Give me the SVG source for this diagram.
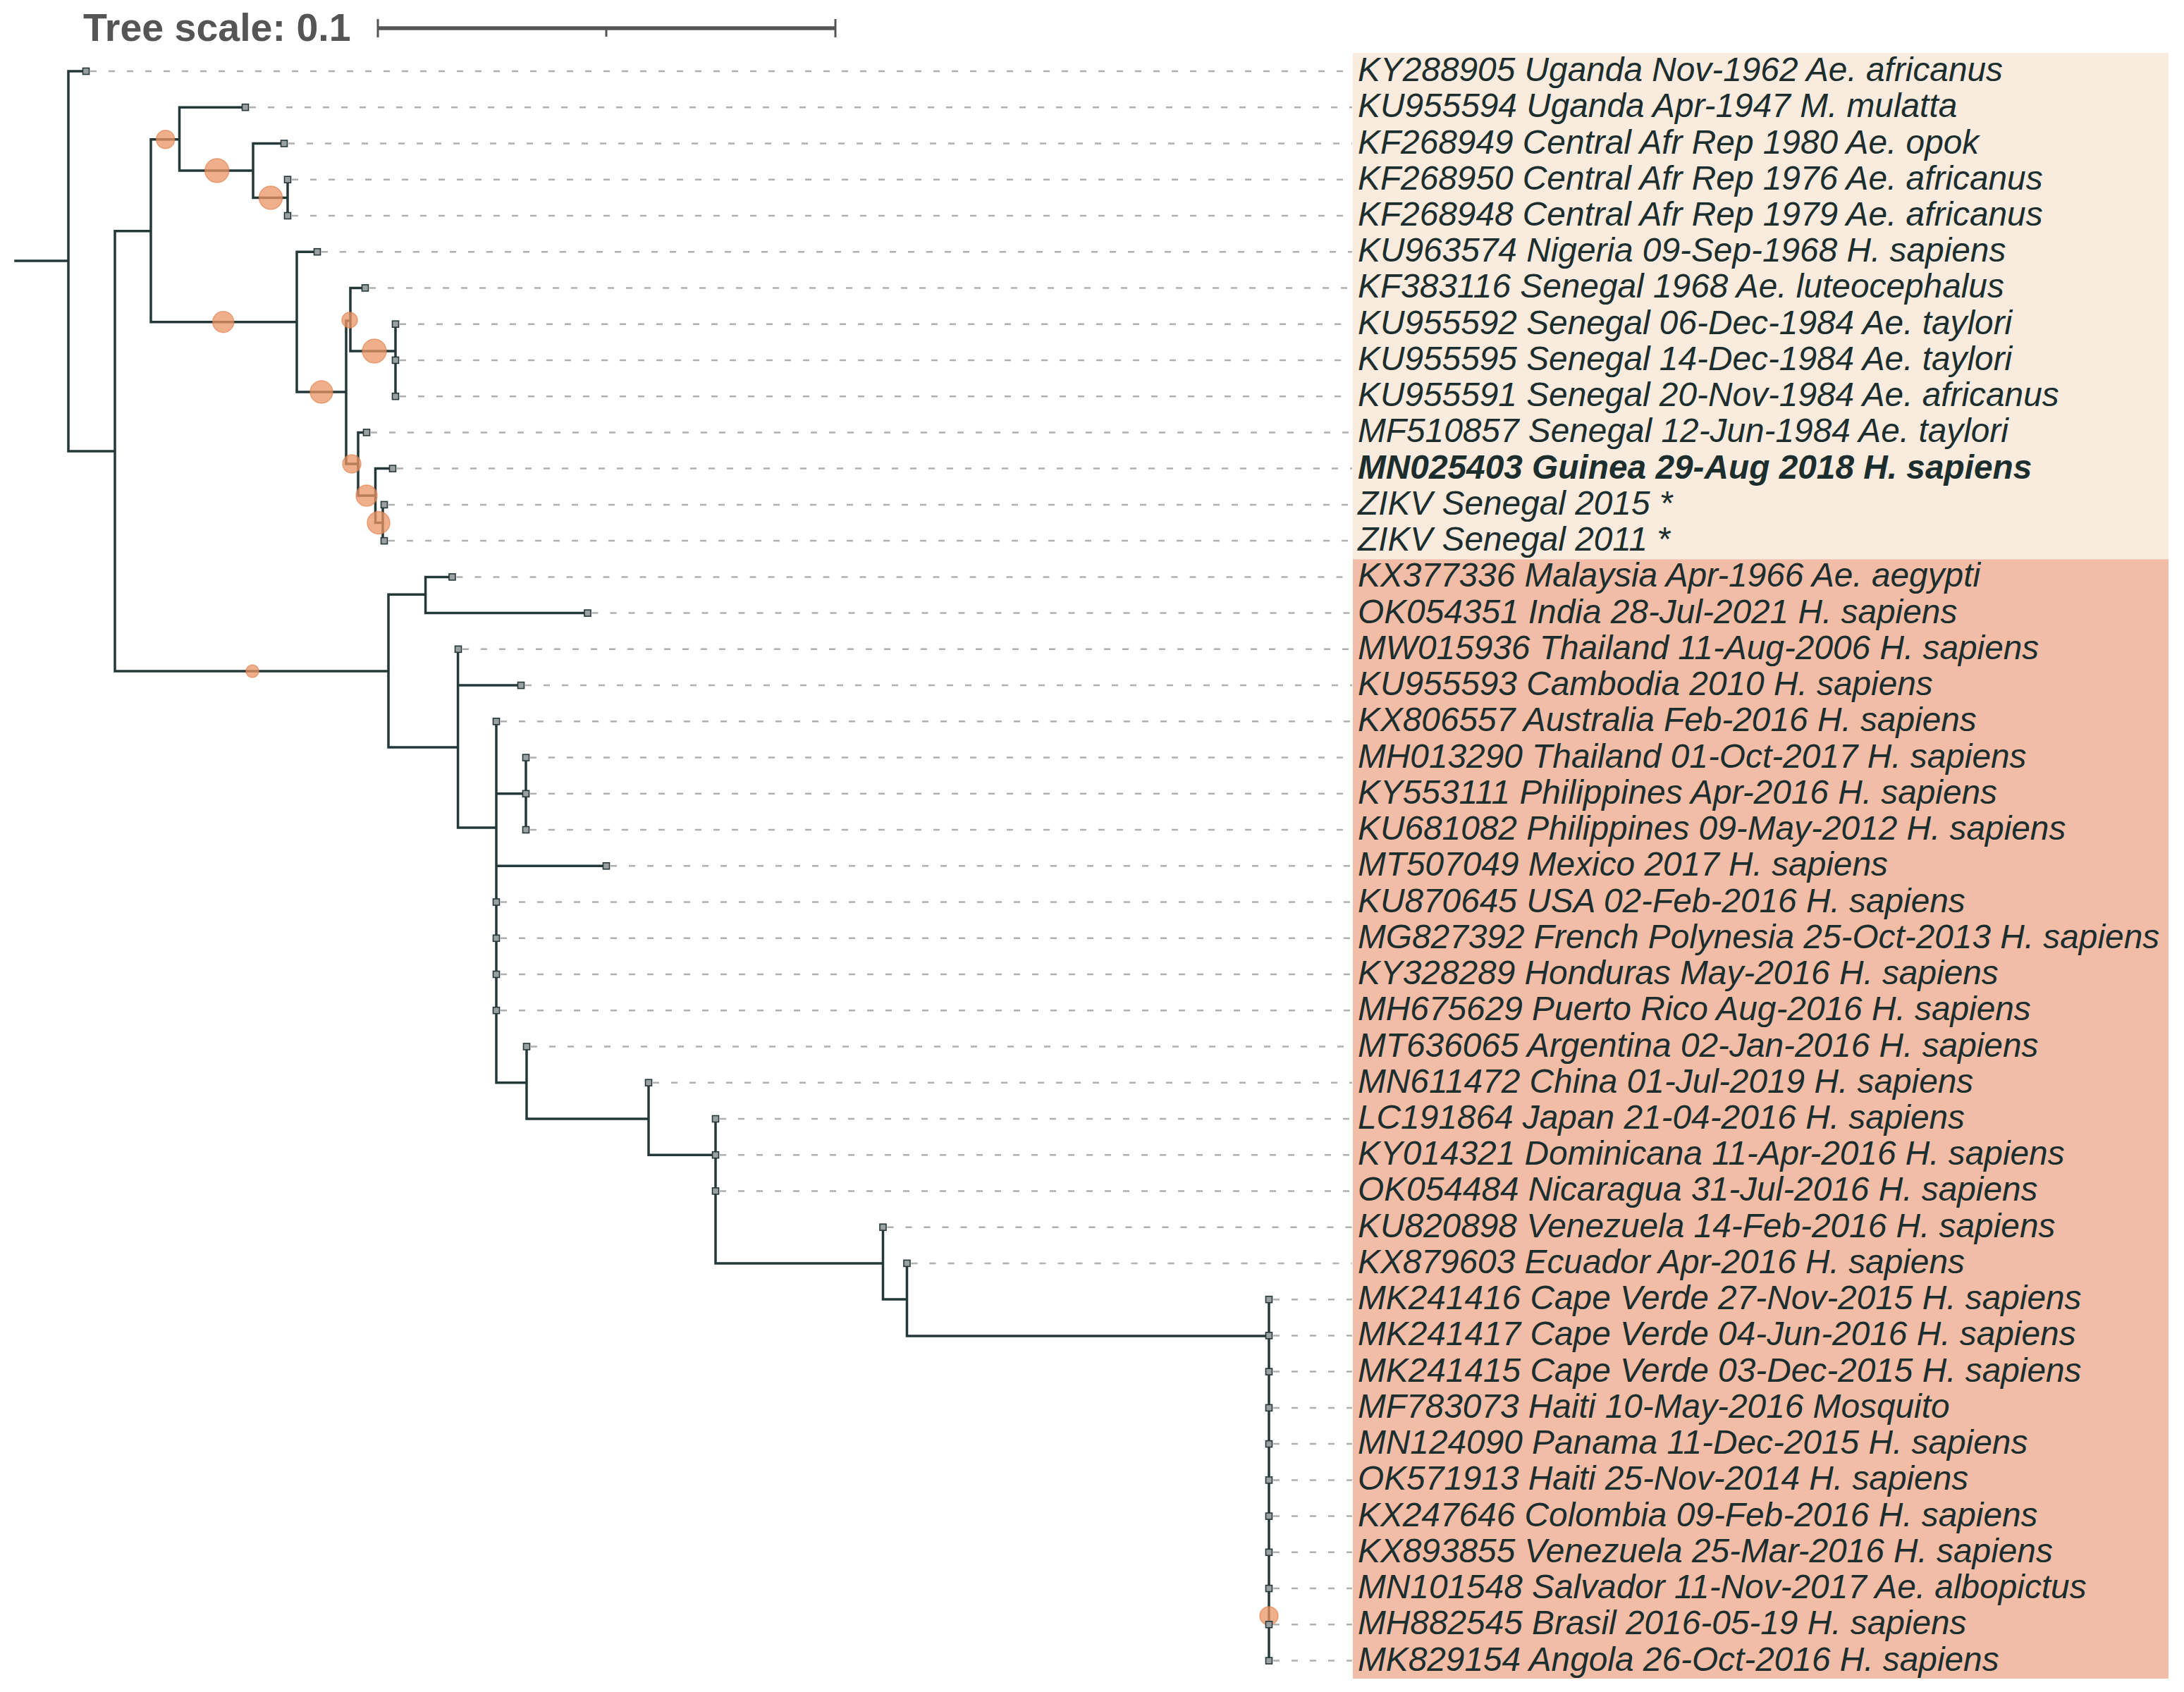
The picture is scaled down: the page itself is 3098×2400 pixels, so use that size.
<svg xmlns="http://www.w3.org/2000/svg" width="3098" height="2400" viewBox="0 0 3098 2400">
<style>
.br{stroke:#243838;stroke-width:3.5;fill:none;stroke-linecap:square}
.dash{stroke:#b0b0b0;stroke-width:2.5;stroke-dasharray:9 17;fill:none}
.sq{fill:#9ba1a1;stroke:#263838;stroke-width:1.6}
.lab{font-family:"Liberation Sans",Arial,sans-serif;font-style:italic;font-size:47.8px;fill:#1c2d2d}
.bold{font-weight:bold}
.bs{fill:#eb9464;fill-opacity:0.75;stroke:#e07a48;stroke-opacity:0.6;stroke-width:1.5}
.scale{stroke:#555555;fill:none}
</style>
<rect width="3098" height="2400" fill="#ffffff"/>
<g id="clade-backgrounds">
<rect x="1919" y="75" width="1157" height="718.3" fill="#f9ebdd"/>
<rect x="1919" y="793.3" width="1157" height="1587.7" fill="#f2bda7"/>
</g>
<g id="tree-scale">
<text x="118" y="58" font-family="'Liberation Sans',Arial,sans-serif" font-weight="bold" font-size="55.5" fill="#555555">Tree scale: 0.1</text>
<line class="scale" x1="535" y1="40" x2="1186" y2="40" stroke-width="5.5"/>
<line class="scale" x1="536" y1="27" x2="536" y2="53" stroke-width="3"/>
<line class="scale" x1="1185" y1="27" x2="1185" y2="53" stroke-width="3"/>
<line class="scale" x1="860" y1="40" x2="860" y2="52" stroke-width="3"/>
</g>
<g id="connectors">
<path class="br" d="M22,370H97 M97,101V640 M97,101H122
M97,640H163 M163,327.7V952
M163,327.7H214 M214,197.7V456.7
M214,197.7H254.5 M254.5,152.2V242 M254.5,152.2H348
M254.5,242H359 M359,203.5V280.5 M359,203.5H403
M359,280.5H408 M408,254.7V306
M214,456.7H421 M421,357.2V556 M421,357.2H450
M421,556H491 M491,455V658
M491,455H497 M497,408.4V498 M497,408.4H518
M497,498H561 M561,459.7V562.2
M491,658H508 M508,613.4V703 M508,613.4H520
M508,703H532.5 M532.5,664.6V741.5 M532.5,664.6H557
M532.5,741.5H543 M543,715.9V767.1 M543,715.9H545 M543,767.1H545
M163,952H551 M551,843.3V1060
M551,843.3H603.6 M603.6,818.4V869.6 M603.6,818.4H641.5 M603.6,869.6H833.5
M551,1060H649.6 M649.6,920.8V1174 M649.6,972.1H738.8
M649.6,1174H704 M704,1023.3V1535.7
M704,1125.8H746 M746,1074.6V1177
M704,1228.3H860
M704,1535.7H747 M747,1484.5V1587
M747,1587H920 M920,1535.7V1638.2
M920,1638.2H1015 M1015,1587V1792
M1015,1792H1252.5 M1252.5,1740.7V1843
M1252.5,1843H1286.5 M1286.5,1791.9V1895
M1286.5,1895H1800 M1800,1843.2V2355.6"/>
</g>
<g id="support-circles">
<circle class="bs" cx="234.7" cy="197.7" r="13"/>
<circle class="bs" cx="307.7" cy="242" r="17"/>
<circle class="bs" cx="384" cy="280.5" r="16.5"/>
<circle class="bs" cx="316.7" cy="456.7" r="15"/>
<circle class="bs" cx="456" cy="556" r="16"/>
<circle class="bs" cx="496" cy="454" r="11"/>
<circle class="bs" cx="531" cy="498" r="17"/>
<circle class="bs" cx="499" cy="658" r="13"/>
<circle class="bs" cx="520" cy="703" r="15"/>
<circle class="bs" cx="537" cy="741.5" r="16"/>
<circle class="bs" cx="358" cy="952" r="9"/>
<circle class="bs" cx="1800" cy="2292" r="13"/>
</g>
<g id="leaf-0"><line class="dash" x1="128" y1="101" x2="1918" y2="101"/><rect class="sq" x="117.5" y="96.5" width="9" height="9"/><text class="lab" x="1926" y="115">KY288905 Uganda Nov-1962 Ae. africanus</text></g>
<g id="leaf-1"><line class="dash" x1="354" y1="152.2" x2="1918" y2="152.2"/><rect class="sq" x="343.5" y="147.7" width="9" height="9"/><text class="lab" x="1926" y="166.2">KU955594 Uganda Apr-1947 M. mulatta</text></g>
<g id="leaf-2"><line class="dash" x1="409" y1="203.5" x2="1918" y2="203.5"/><rect class="sq" x="398.5" y="199" width="9" height="9"/><text class="lab" x="1926" y="217.5">KF268949 Central Afr Rep 1980 Ae. opok</text></g>
<g id="leaf-3"><line class="dash" x1="414" y1="254.7" x2="1918" y2="254.7"/><rect class="sq" x="403.5" y="250.2" width="9" height="9"/><text class="lab" x="1926" y="268.7">KF268950 Central Afr Rep 1976 Ae. africanus</text></g>
<g id="leaf-4"><line class="dash" x1="414" y1="306" x2="1918" y2="306"/><rect class="sq" x="403.5" y="301.5" width="9" height="9"/><text class="lab" x="1926" y="320">KF268948 Central Afr Rep 1979 Ae. africanus</text></g>
<g id="leaf-5"><line class="dash" x1="456" y1="357.2" x2="1918" y2="357.2"/><rect class="sq" x="445.5" y="352.7" width="9" height="9"/><text class="lab" x="1926" y="371.2">KU963574 Nigeria 09-Sep-1968 H. sapiens</text></g>
<g id="leaf-6"><line class="dash" x1="524" y1="408.4" x2="1918" y2="408.4"/><rect class="sq" x="513.5" y="403.9" width="9" height="9"/><text class="lab" x="1926" y="422.4">KF383116 Senegal 1968 Ae. luteocephalus</text></g>
<g id="leaf-7"><line class="dash" x1="567" y1="459.7" x2="1918" y2="459.7"/><rect class="sq" x="556.5" y="455.2" width="9" height="9"/><text class="lab" x="1926" y="473.7">KU955592 Senegal 06-Dec-1984 Ae. taylori</text></g>
<g id="leaf-8"><line class="dash" x1="567" y1="510.9" x2="1918" y2="510.9"/><rect class="sq" x="556.5" y="506.4" width="9" height="9"/><text class="lab" x="1926" y="524.9">KU955595 Senegal 14-Dec-1984 Ae. taylori</text></g>
<g id="leaf-9"><line class="dash" x1="567" y1="562.2" x2="1918" y2="562.2"/><rect class="sq" x="556.5" y="557.7" width="9" height="9"/><text class="lab" x="1926" y="576.2">KU955591 Senegal 20-Nov-1984 Ae. africanus</text></g>
<g id="leaf-10"><line class="dash" x1="526" y1="613.4" x2="1918" y2="613.4"/><rect class="sq" x="515.5" y="608.9" width="9" height="9"/><text class="lab" x="1926" y="627.4">MF510857 Senegal 12-Jun-1984 Ae. taylori</text></g>
<g id="leaf-11"><line class="dash" x1="563" y1="664.6" x2="1918" y2="664.6"/><rect class="sq" x="552.5" y="660.1" width="9" height="9"/><text class="lab bold" x="1926" y="678.6">MN025403 Guinea 29-Aug 2018 H. sapiens</text></g>
<g id="leaf-12"><line class="dash" x1="551" y1="715.9" x2="1918" y2="715.9"/><rect class="sq" x="540.5" y="711.4" width="9" height="9"/><text class="lab" x="1926" y="729.9">ZIKV Senegal 2015 *</text></g>
<g id="leaf-13"><line class="dash" x1="551" y1="767.1" x2="1918" y2="767.1"/><rect class="sq" x="540.5" y="762.6" width="9" height="9"/><text class="lab" x="1926" y="781.1">ZIKV Senegal 2011 *</text></g>
<g id="leaf-14"><line class="dash" x1="647.5" y1="818.4" x2="1918" y2="818.4"/><rect class="sq" x="637" y="813.9" width="9" height="9"/><text class="lab" x="1926" y="832.4">KX377336 Malaysia Apr-1966 Ae. aegypti</text></g>
<g id="leaf-15"><line class="dash" x1="839.5" y1="869.6" x2="1918" y2="869.6"/><rect class="sq" x="829" y="865.1" width="9" height="9"/><text class="lab" x="1926" y="883.6">OK054351 India 28-Jul-2021 H. sapiens</text></g>
<g id="leaf-16"><line class="dash" x1="656" y1="920.8" x2="1918" y2="920.8"/><rect class="sq" x="645.5" y="916.3" width="9" height="9"/><text class="lab" x="1926" y="934.8">MW015936 Thailand 11-Aug-2006 H. sapiens</text></g>
<g id="leaf-17"><line class="dash" x1="745" y1="972.1" x2="1918" y2="972.1"/><rect class="sq" x="734.5" y="967.6" width="9" height="9"/><text class="lab" x="1926" y="986.1">KU955593 Cambodia 2010 H. sapiens</text></g>
<g id="leaf-18"><line class="dash" x1="710" y1="1023.3" x2="1918" y2="1023.3"/><rect class="sq" x="699.5" y="1018.8" width="9" height="9"/><text class="lab" x="1926" y="1037.3">KX806557 Australia Feb-2016 H. sapiens</text></g>
<g id="leaf-19"><line class="dash" x1="752" y1="1074.6" x2="1918" y2="1074.6"/><rect class="sq" x="741.5" y="1070.1" width="9" height="9"/><text class="lab" x="1926" y="1088.6">MH013290 Thailand 01-Oct-2017 H. sapiens</text></g>
<g id="leaf-20"><line class="dash" x1="752" y1="1125.8" x2="1918" y2="1125.8"/><rect class="sq" x="741.5" y="1121.3" width="9" height="9"/><text class="lab" x="1926" y="1139.8">KY553111 Philippines Apr-2016 H. sapiens</text></g>
<g id="leaf-21"><line class="dash" x1="752" y1="1177" x2="1918" y2="1177"/><rect class="sq" x="741.5" y="1172.5" width="9" height="9"/><text class="lab" x="1926" y="1191">KU681082 Philippines 09-May-2012 H. sapiens</text></g>
<g id="leaf-22"><line class="dash" x1="866" y1="1228.3" x2="1918" y2="1228.3"/><rect class="sq" x="855.5" y="1223.8" width="9" height="9"/><text class="lab" x="1926" y="1242.3">MT507049 Mexico 2017 H. sapiens</text></g>
<g id="leaf-23"><line class="dash" x1="710" y1="1279.5" x2="1918" y2="1279.5"/><rect class="sq" x="699.5" y="1275" width="9" height="9"/><text class="lab" x="1926" y="1293.5">KU870645 USA 02-Feb-2016 H. sapiens</text></g>
<g id="leaf-24"><line class="dash" x1="710" y1="1330.8" x2="1918" y2="1330.8"/><rect class="sq" x="699.5" y="1326.3" width="9" height="9"/><text class="lab" x="1926" y="1344.8">MG827392 French Polynesia 25-Oct-2013 H. sapiens</text></g>
<g id="leaf-25"><line class="dash" x1="710" y1="1382" x2="1918" y2="1382"/><rect class="sq" x="699.5" y="1377.5" width="9" height="9"/><text class="lab" x="1926" y="1396">KY328289 Honduras May-2016 H. sapiens</text></g>
<g id="leaf-26"><line class="dash" x1="710" y1="1433.2" x2="1918" y2="1433.2"/><rect class="sq" x="699.5" y="1428.7" width="9" height="9"/><text class="lab" x="1926" y="1447.2">MH675629 Puerto Rico Aug-2016 H. sapiens</text></g>
<g id="leaf-27"><line class="dash" x1="753" y1="1484.5" x2="1918" y2="1484.5"/><rect class="sq" x="742.5" y="1480" width="9" height="9"/><text class="lab" x="1926" y="1498.5">MT636065 Argentina 02-Jan-2016 H. sapiens</text></g>
<g id="leaf-28"><line class="dash" x1="926" y1="1535.7" x2="1918" y2="1535.7"/><rect class="sq" x="915.5" y="1531.2" width="9" height="9"/><text class="lab" x="1926" y="1549.7">MN611472 China 01-Jul-2019 H. sapiens</text></g>
<g id="leaf-29"><line class="dash" x1="1021" y1="1587" x2="1918" y2="1587"/><rect class="sq" x="1010.5" y="1582.5" width="9" height="9"/><text class="lab" x="1926" y="1601">LC191864 Japan 21-04-2016 H. sapiens</text></g>
<g id="leaf-30"><line class="dash" x1="1021" y1="1638.2" x2="1918" y2="1638.2"/><rect class="sq" x="1010.5" y="1633.7" width="9" height="9"/><text class="lab" x="1926" y="1652.2">KY014321 Dominicana 11-Apr-2016 H. sapiens</text></g>
<g id="leaf-31"><line class="dash" x1="1021" y1="1689.4" x2="1918" y2="1689.4"/><rect class="sq" x="1010.5" y="1684.9" width="9" height="9"/><text class="lab" x="1926" y="1703.4">OK054484 Nicaragua 31-Jul-2016 H. sapiens</text></g>
<g id="leaf-32"><line class="dash" x1="1258.5" y1="1740.7" x2="1918" y2="1740.7"/><rect class="sq" x="1248" y="1736.2" width="9" height="9"/><text class="lab" x="1926" y="1754.7">KU820898 Venezuela 14-Feb-2016 H. sapiens</text></g>
<g id="leaf-33"><line class="dash" x1="1292.5" y1="1791.9" x2="1918" y2="1791.9"/><rect class="sq" x="1282" y="1787.4" width="9" height="9"/><text class="lab" x="1926" y="1805.9">KX879603 Ecuador Apr-2016 H. sapiens</text></g>
<g id="leaf-34"><line class="dash" x1="1806" y1="1843.2" x2="1918" y2="1843.2"/><rect class="sq" x="1795.5" y="1838.7" width="9" height="9"/><text class="lab" x="1926" y="1857.2">MK241416 Cape Verde 27-Nov-2015 H. sapiens</text></g>
<g id="leaf-35"><line class="dash" x1="1806" y1="1894.4" x2="1918" y2="1894.4"/><rect class="sq" x="1795.5" y="1889.9" width="9" height="9"/><text class="lab" x="1926" y="1908.4">MK241417 Cape Verde 04-Jun-2016 H. sapiens</text></g>
<g id="leaf-36"><line class="dash" x1="1806" y1="1945.6" x2="1918" y2="1945.6"/><rect class="sq" x="1795.5" y="1941.1" width="9" height="9"/><text class="lab" x="1926" y="1959.6">MK241415 Cape Verde 03-Dec-2015 H. sapiens</text></g>
<g id="leaf-37"><line class="dash" x1="1806" y1="1996.9" x2="1918" y2="1996.9"/><rect class="sq" x="1795.5" y="1992.4" width="9" height="9"/><text class="lab" x="1926" y="2010.9">MF783073 Haiti 10-May-2016 Mosquito</text></g>
<g id="leaf-38"><line class="dash" x1="1806" y1="2048.1" x2="1918" y2="2048.1"/><rect class="sq" x="1795.5" y="2043.6" width="9" height="9"/><text class="lab" x="1926" y="2062.1">MN124090 Panama 11-Dec-2015 H. sapiens</text></g>
<g id="leaf-39"><line class="dash" x1="1806" y1="2099.4" x2="1918" y2="2099.4"/><rect class="sq" x="1795.5" y="2094.9" width="9" height="9"/><text class="lab" x="1926" y="2113.4">OK571913 Haiti 25-Nov-2014 H. sapiens</text></g>
<g id="leaf-40"><line class="dash" x1="1806" y1="2150.6" x2="1918" y2="2150.6"/><rect class="sq" x="1795.5" y="2146.1" width="9" height="9"/><text class="lab" x="1926" y="2164.6">KX247646 Colombia 09-Feb-2016 H. sapiens</text></g>
<g id="leaf-41"><line class="dash" x1="1806" y1="2201.8" x2="1918" y2="2201.8"/><rect class="sq" x="1795.5" y="2197.3" width="9" height="9"/><text class="lab" x="1926" y="2215.8">KX893855 Venezuela 25-Mar-2016 H. sapiens</text></g>
<g id="leaf-42"><line class="dash" x1="1806" y1="2253.1" x2="1918" y2="2253.1"/><rect class="sq" x="1795.5" y="2248.6" width="9" height="9"/><text class="lab" x="1926" y="2267.1">MN101548 Salvador 11-Nov-2017 Ae. albopictus</text></g>
<g id="leaf-43"><line class="dash" x1="1806" y1="2304.3" x2="1918" y2="2304.3"/><rect class="sq" x="1795.5" y="2299.8" width="9" height="9"/><text class="lab" x="1926" y="2318.3">MH882545 Brasil 2016-05-19 H. sapiens</text></g>
<g id="leaf-44"><line class="dash" x1="1806" y1="2355.6" x2="1918" y2="2355.6"/><rect class="sq" x="1795.5" y="2351.1" width="9" height="9"/><text class="lab" x="1926" y="2369.6">MK829154 Angola 26-Oct-2016 H. sapiens</text></g>
</svg>
